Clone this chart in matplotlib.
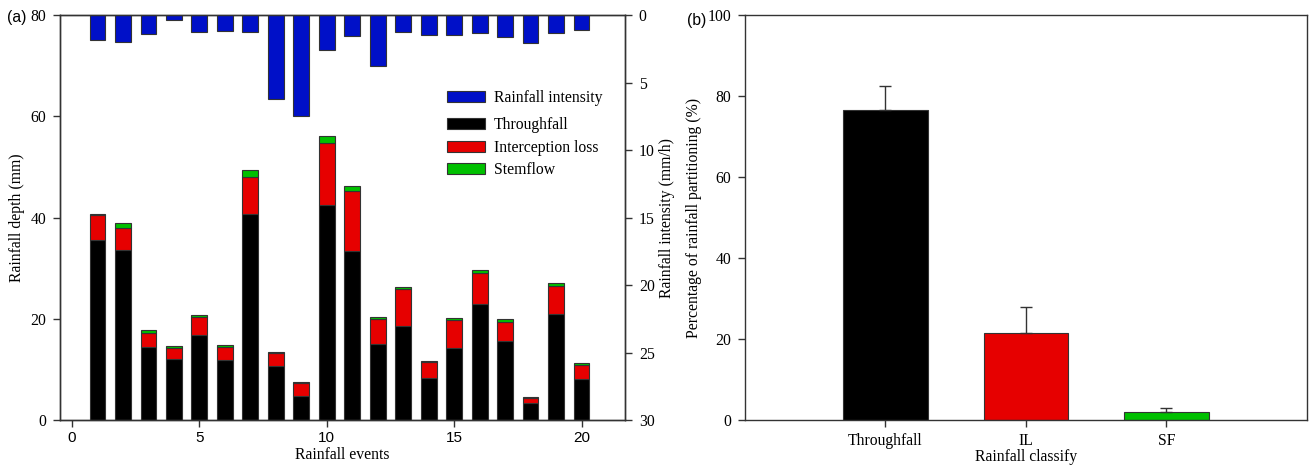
import matplotlib
matplotlib.use("Agg")
import matplotlib.pyplot as plt
import numpy as np

plt.rcParams['font.family'] = ['Liberation Serif', 'DejaVu Serif']
plt.rcParams['font.size'] = 11.3

# Panel (a): rainfall partitioning for 20 events
events = np.arange(1, 21)
throughfall = [35.6, 33.6, 14.4, 12.0, 16.9, 11.9, 40.8, 10.6, 4.7, 42.5,
               33.4, 15.1, 18.6, 8.4, 14.3, 23.0, 15.6, 3.4, 20.9, 8.2]
interception = [4.9, 4.4, 2.9, 2.2, 3.4, 2.5, 7.2, 2.6, 2.6, 12.2,
                11.8, 4.8, 7.3, 3.1, 5.5, 6.0, 3.8, 0.9, 5.6, 2.7]
stemflow = [0.3, 1.0, 0.5, 0.5, 0.5, 0.5, 1.5, 0.3, 0.2, 1.4,
            1.0, 0.4, 0.3, 0.2, 0.3, 0.6, 0.5, 0.2, 0.6, 0.3]
intensity = [1.87, 2.0, 1.43, 0.37, 1.23, 1.18, 1.23, 6.22, 7.45, 2.59,
             1.58, 3.75, 1.28, 1.5, 1.5, 1.33, 1.65, 2.05, 1.31, 1.13]
event_ticks = [0, 5, 10, 15, 20]

# Panel (b): mean percentage of rainfall partitioning
classes = ['Throughfall', 'IL', 'SF']
percent = [76.6, 21.5, 2.0]
percent_err = [5.8, 6.3, 0.9]

blue = '#0010C8'
red = '#E60000'
green = '#00C000'
edge = '#333333'
sans = ['Liberation Sans', 'DejaVu Sans']

fig = plt.figure(figsize=(13.1, 4.72), dpi=100)
ax1 = fig.add_axes([0.0458, 0.110, 0.4312, 0.858])
ax3 = fig.add_axes([0.5687, 0.110, 0.429, 0.858])

# ---- panel (a)
w = 0.62
b1 = ax1.bar(events, throughfall, width=w, color='black', edgecolor=edge, linewidth=0.8,
             label='Throughfall')
bottom2 = np.array(throughfall)
b2 = ax1.bar(events, interception, width=w, bottom=bottom2, color=red, edgecolor=edge,
             linewidth=0.8, label='Interception loss')
bottom3 = bottom2 + np.array(interception)
b3 = ax1.bar(events, stemflow, width=w, bottom=bottom3, color=green, edgecolor=edge,
             linewidth=0.8, label='Stemflow')
ax1.set_xlim(-0.47, 21.7)
ax1.set_ylim(0, 80)
ax1.set_xticks(event_ticks, labels=[str(t) for t in event_ticks], fontfamily=sans, fontsize=11)
ax1.set_yticks([0, 20, 40, 60, 80])
ax1.set_xlabel('Rainfall events', labelpad=1)
ax1.set_ylabel('Rainfall depth (mm)', labelpad=4)

ax2 = ax1.twinx()
b4 = ax2.bar(events, intensity, width=w, color=blue, edgecolor=edge, linewidth=0.8,
             label='Rainfall intensity')
ax2.set_ylim(30, 0)
ax2.set_yticks([0, 5, 10, 15, 20, 25, 30])
ax2.set_ylabel('Rainfall intensity (mm/h)', labelpad=3)

for ax in (ax1, ax2, ax3):
    ax.tick_params(direction='out', length=5, width=1, color='#333333', pad=5)
    for s in ax.spines.values():
        s.set_color('#333333')
        s.set_linewidth(1)
ax1.tick_params(top=False, right=False)
ax1.tick_params(axis='x', pad=3)

leg_kw = dict(frameon=False, borderpad=0, borderaxespad=0, handlelength=2.4,
              handleheight=0.7, handletextpad=0.6, labelspacing=0.42, fontsize=11.3)
lg1 = ax2.legend(handles=[b4], loc='upper left', bbox_to_anchor=(0.685, 0.815), **leg_kw)
ax2.add_artist(lg1)
ax2.legend(handles=[b1, b2, b3], loc='upper left', bbox_to_anchor=(0.685, 0.748), **leg_kw)

# ---- panel (b)
xpos = np.arange(len(classes))
ax3.bar(xpos, percent, width=0.6, color=['black', red, green], edgecolor=edge, linewidth=0.8,
        yerr=[[0, 0, 0], percent_err], error_kw=dict(ecolor='#333333', elinewidth=1,
                                                     capsize=4.3, capthick=1))
ax3.set_xlim(-1.0, 3.0)
ax3.set_ylim(0, 100)
ax3.set_xticks(xpos)
ax3.set_xticklabels(classes)
ax3.set_yticks([0, 20, 40, 60, 80, 100])
ax3.tick_params(axis='x', pad=4)
ax3.set_xlabel('Rainfall classify', labelpad=0)
ax3.set_ylabel('Percentage of rainfall partitioning (%)', labelpad=4)

fig.text(0.005, 0.953, '(a)', family=sans, fontsize=11.3)
fig.text(0.5245, 0.946, '(b)', family=sans, fontsize=11.3)

fig.savefig('out.png', dpi=100)
